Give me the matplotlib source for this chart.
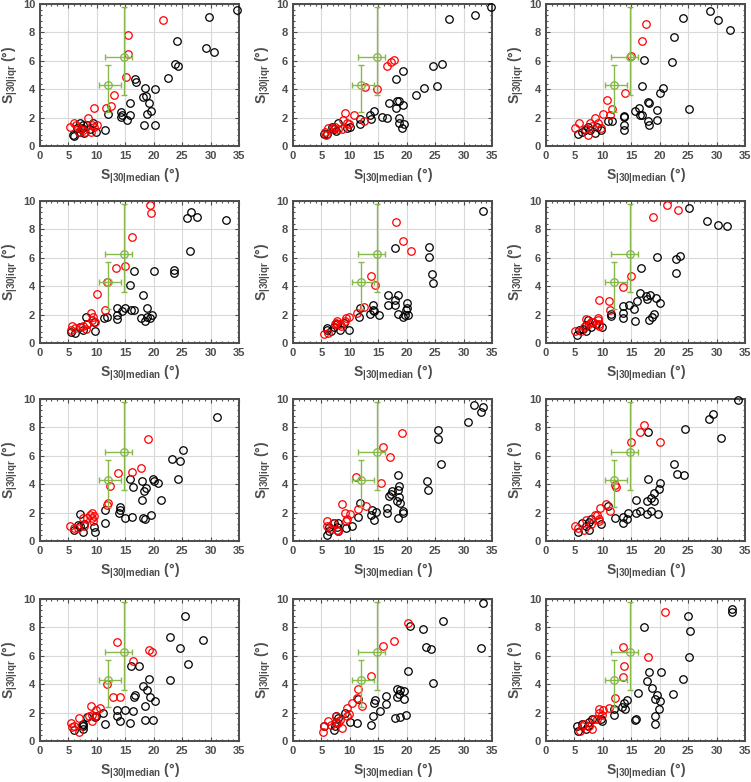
"""
Grade 4x3 de dispersões: S|30|iqr contra S|30|median.
Pontos pretos e vermelhos por painel, com as duas referências verdes.
"""

import matplotlib
matplotlib.use("Agg")
import matplotlib.pyplot as plt
from matplotlib.ticker import MultipleLocator, AutoMinorLocator

# ---------------------------------------------------------------- dados
# cada lista: pares (median, iqr)

black_1 = [(34.7, 9.6), (29.7, 9.1), (29.2, 6.9), (30.6, 6.65), (24.1, 7.4), (23.8, 5.75), (24.2, 5.65),
           (22.5, 4.8), (16.7, 4.7), (16.9, 4.5), (18.4, 4.05), (20.2, 4.0), (18.1, 3.45), (18.6, 3.55),
           (15.9, 3.0), (19.1, 3.0), (14.2, 2.4), (14.4, 2.2), (14.3, 2.05), (15.9, 2.15), (15.3, 1.85),
           (19.6, 2.45), (18.9, 2.25), (18.3, 1.5), (20.2, 1.45), (11.9, 2.25), (11.5, 1.15), (9.9, 1.0),
           (9.4, 1.65), (8.2, 1.45), (7.6, 1.5), (7.0, 1.65), (7.2, 1.2), (6.8, 1.0), (7.8, 0.95),
           (5.8, 0.8), (5.9, 0.7), (6.5, 1.3), (8.8, 1.2), (7.4, 1.3)]
red_1 = [(21.7, 8.85), (15.4, 7.85), (15.4, 6.5), (15.2, 4.85), (13.1, 3.6), (12.4, 2.85), (11.6, 2.7),
         (9.5, 2.7), (8.4, 1.95), (5.3, 1.35), (6.0, 1.6), (6.4, 1.45), (7.2, 1.2), (8.0, 1.0), (9.0, 1.0),
         (9.5, 1.35), (10.0, 1.45), (9.1, 1.5), (6.9, 1.0), (7.6, 1.1)]

black_2 = [(34.9, 9.8), (27.5, 8.96), (32.0, 9.25), (26.2, 5.8), (24.6, 5.65), (25.3, 4.2), (23.1, 4.1),
           (21.6, 3.6), (19.3, 5.3), (18.1, 4.7), (16.9, 3.0), (18.3, 3.2), (18.7, 3.2), (19.3, 2.9),
           (18.2, 2.65), (18.6, 2.0), (18.6, 1.65), (19.1, 1.3), (19.6, 1.58), (15.7, 2.05), (16.5, 1.95),
           (14.3, 2.45), (13.6, 2.2), (13.8, 1.9), (11.7, 1.9), (11.7, 1.55), (10.0, 1.35), (9.5, 1.28),
           (7.9, 1.62), (7.2, 1.22), (6.8, 1.35), (7.5, 1.05), (5.4, 0.82), (6.0, 0.82)]
red_2 = [(17.8, 6.05), (17.2, 5.9), (16.5, 5.6), (12.6, 4.15), (14.8, 4.0), (10.8, 2.2), (9.1, 2.35),
         (12.5, 1.75), (8.8, 1.85), (9.5, 1.65), (9.9, 1.58), (8.7, 1.22), (7.4, 1.35), (7.1, 1.3),
         (6.1, 1.3), (5.7, 1.0), (5.8, 0.75), (7.9, 1.2)]

black_3 = [(28.9, 9.5), (24.1, 9.0), (30.2, 8.9), (32.4, 8.15), (22.6, 7.7), (22.2, 5.9), (17.3, 6.05),
           (16.9, 4.2), (20.5, 4.05), (20.0, 3.75), (18.0, 3.1), (18.1, 3.0), (16.3, 2.7), (15.6, 2.5),
           (16.9, 2.15), (16.6, 2.15), (19.5, 2.55), (19.6, 1.85), (18.0, 1.75), (18.2, 1.5), (25.2, 2.6),
           (13.8, 2.1), (13.8, 2.05), (13.8, 1.45), (13.8, 1.1), (11.6, 1.75), (10.9, 1.75), (9.6, 1.1),
           (9.0, 1.35), (7.3, 1.35), (6.9, 1.1), (5.6, 0.85), (6.3, 1.0), (7.8, 1.1), (8.7, 0.95)]
red_3 = [(17.6, 8.6), (16.9, 7.4), (15.0, 6.35), (13.9, 3.75), (10.8, 3.25), (11.6, 2.6), (11.2, 2.2),
         (10.0, 2.25), (8.7, 1.95), (7.8, 1.6), (5.8, 1.65), (5.1, 1.25), (8.1, 1.4), (9.2, 1.6),
         (9.7, 1.3), (7.3, 0.8), (6.9, 1.2)]

black_4 = [(32.8, 8.65), (26.6, 9.2), (25.8, 8.8), (27.6, 8.85), (26.4, 6.5), (23.5, 5.15), (23.5, 4.9),
           (20.1, 5.1), (16.5, 5.05), (15.8, 4.1), (18.1, 3.35), (13.6, 2.5), (15.0, 2.5), (16.5, 2.35),
           (16.0, 2.3), (14.4, 2.25), (13.5, 2.0), (13.5, 1.7), (18.8, 2.45), (17.8, 1.75), (18.5, 1.55),
           (18.8, 1.85), (19.4, 1.75), (19.7, 2.0), (11.8, 1.85), (11.2, 1.75), (9.7, 0.82), (9.5, 1.5),
           (8.1, 1.8), (7.5, 0.92), (6.1, 0.68), (5.4, 0.75), (8.2, 1.35), (7.1, 1.15)]
red_4 = [(19.4, 9.75), (19.5, 9.15), (16.1, 7.5), (15.0, 5.45), (13.4, 5.25), (11.7, 4.3), (10.1, 3.45),
         (11.5, 2.35), (8.9, 2.1), (9.3, 1.85), (9.1, 1.6), (9.7, 1.45), (8.2, 1.35), (7.6, 1.22),
         (7.1, 1.1), (8.1, 1.0), (5.6, 1.22), (5.5, 0.92), (6.2, 1.05)]

black_5 = [(33.4, 9.3), (24.0, 6.75), (24.0, 6.05), (24.4, 4.85), (24.7, 4.2), (17.9, 6.7), (16.7, 3.4),
           (18.4, 3.4), (17.9, 3.05), (16.7, 2.65), (17.9, 2.65), (20.1, 2.85), (20.0, 2.5), (19.9, 2.3),
           (18.5, 2.05), (20.3, 2.0), (19.3, 1.85), (19.7, 2.0), (14.1, 2.7), (14.1, 2.35), (14.3, 2.25),
           (13.5, 2.05), (15.1, 2.0), (11.7, 2.5), (11.6, 1.8), (9.8, 0.92), (9.0, 1.4), (7.8, 1.35),
           (7.2, 1.1), (8.2, 0.92), (5.9, 1.05), (5.9, 0.92), (6.6, 0.88)]
red_5 = [(18.2, 8.5), (19.3, 7.2), (20.7, 6.5), (13.8, 4.75), (14.4, 4.08), (12.5, 2.55), (11.3, 2.1),
         (9.8, 1.85), (9.4, 1.75), (9.1, 1.55), (8.2, 1.35), (7.5, 1.4), (7.7, 1.55), (7.4, 1.35),
         (5.5, 0.6), (6.1, 0.68), (8.5, 1.22)]

black_6 = [(25.1, 9.5), (28.4, 8.6), (31.8, 8.25), (30.2, 8.3), (23.5, 6.15), (22.9, 5.9), (22.9, 4.9),
           (19.6, 6.05), (16.7, 5.3), (16.6, 3.55), (18.3, 3.4), (17.6, 3.3), (17.7, 3.1), (19.3, 3.2),
           (20.0, 2.8), (16.0, 2.95), (14.6, 2.65), (13.6, 2.6), (15.4, 2.4), (13.6, 2.1), (13.6, 1.75),
           (15.7, 1.58), (19.0, 2.05), (18.6, 1.8), (18.2, 1.6), (11.4, 2.05), (11.4, 1.9), (9.8, 1.15),
           (8.8, 1.35), (7.3, 1.6), (7.1, 1.25), (7.0, 0.88), (5.5, 0.55), (5.8, 0.92), (6.5, 1.0), (7.9, 1.15)]
red_6 = [(21.3, 9.75), (23.3, 9.4), (18.8, 8.85), (15.0, 4.7), (13.5, 3.95), (9.3, 3.0), (11.1, 2.95),
         (11.3, 2.3), (9.2, 1.6), (9.1, 1.75), (7.1, 1.7), (7.9, 1.45), (8.3, 1.5), (9.3, 1.35),
         (9.4, 1.22), (6.7, 1.1), (6.1, 0.88), (5.1, 0.88), (7.5, 1.35)]

black_7 = [(31.1, 8.7), (25.1, 6.4), (23.3, 5.8), (24.6, 5.6), (24.3, 4.4), (19.9, 4.35), (20.0, 4.2),
           (20.8, 4.1), (15.8, 4.4), (16.3, 3.8), (17.9, 4.25), (18.3, 3.55), (18.7, 3.75), (17.9, 2.9),
           (21.2, 2.9), (14.1, 2.2), (14.1, 2.4), (13.9, 2.0), (14.9, 1.65), (16.1, 1.7), (18.1, 1.65),
           (18.5, 1.55), (19.6, 1.85), (11.5, 2.15), (11.4, 1.25), (7.1, 1.9), (9.5, 1.0), (9.6, 0.65),
           (7.6, 0.62), (6.6, 1.1), (5.9, 0.75), (7.8, 1.18), (7.1, 1.05)]
red_7 = [(19.0, 7.2), (17.7, 5.15), (16.2, 4.85), (13.7, 4.8), (12.3, 3.9), (11.8, 2.55), (11.9, 2.65),
         (9.2, 1.95), (8.8, 1.85), (8.3, 1.65), (9.2, 1.6), (9.3, 1.38), (7.5, 1.6), (7.7, 1.05),
         (6.6, 0.9), (5.2, 1.05), (5.9, 0.95), (9.5, 1.75)]

black_8 = [(33.4, 9.45), (31.8, 9.55), (33.0, 9.1), (30.8, 8.4), (25.5, 7.8), (25.5, 7.2), (26.0, 5.4),
           (23.6, 4.2), (23.8, 3.6), (18.5, 4.65), (18.6, 3.9), (17.4, 3.55), (17.3, 3.3), (16.8, 3.15),
           (18.5, 3.6), (18.6, 3.1), (18.3, 2.8), (18.9, 2.65), (19.3, 2.1), (19.3, 1.95), (18.4, 1.65),
           (16.6, 2.35), (16.6, 2.0), (13.9, 2.15), (14.6, 2.05), (13.8, 1.8), (14.3, 1.5), (11.8, 2.65),
           (11.4, 1.7), (10.3, 1.05), (9.4, 0.9), (7.9, 1.25), (7.8, 0.97), (7.2, 1.25), (6.3, 0.7),
           (5.9, 0.42), (6.3, 1.0), (8.0, 0.72)]
red_8 = [(19.1, 7.6), (15.8, 6.65), (17.0, 5.95), (11.1, 4.5), (15.5, 4.05), (8.6, 2.62), (9.2, 2.0),
         (10.1, 1.9), (12.8, 2.45), (11.4, 2.25), (9.5, 1.55), (9.4, 1.38), (6.0, 1.38), (6.0, 1.05),
         (7.1, 1.25), (7.7, 0.78), (8.0, 0.68), (6.6, 0.83)]

black_9 = [(33.8, 9.9), (29.3, 8.95), (28.6, 8.6), (30.8, 7.25), (24.4, 7.9), (18.0, 7.65), (22.5, 5.4),
           (23.0, 4.75), (24.2, 4.65), (17.9, 4.35), (20.1, 4.05), (19.9, 3.65), (19.0, 3.4), (18.5, 3.0),
           (19.0, 2.85), (17.7, 2.8), (15.9, 2.9), (19.7, 1.9), (18.4, 2.1), (17.7, 1.92), (16.5, 2.1),
           (15.8, 2.0), (14.4, 2.0), (13.5, 1.72), (14.2, 1.55), (13.5, 1.3), (12.1, 1.65), (10.9, 2.5),
           (9.6, 1.18), (8.0, 1.55), (7.5, 1.32), (7.6, 0.78), (5.7, 0.66), (7.0, 1.05), (6.4, 1.25)]
red_9 = [(17.2, 8.15), (16.6, 7.65), (14.9, 7.0), (20.1, 7.0), (12.1, 3.95), (12.3, 3.8), (10.5, 2.6),
         (9.5, 2.35), (11.2, 2.1), (8.9, 1.85), (8.6, 1.8), (9.3, 1.4), (9.3, 1.55), (7.1, 1.5),
         (7.9, 1.2), (5.1, 1.05), (5.7, 0.9), (6.7, 0.78)]

black_10 = [(25.5, 8.8), (22.8, 7.35), (24.6, 6.55), (28.6, 7.1), (26.0, 5.4), (22.9, 4.3), (16.0, 5.3),
            (17.4, 5.3), (19.1, 4.38), (18.1, 3.85), (18.8, 3.6), (16.7, 3.25), (16.6, 3.1), (19.3, 3.1),
            (20.2, 2.83), (18.5, 2.5), (14.9, 2.2), (13.6, 2.2), (13.6, 1.78), (14.0, 1.43), (16.4, 2.08),
            (15.8, 1.3), (18.5, 1.5), (19.9, 1.5), (11.1, 2.0), (11.5, 1.22), (9.7, 1.68), (8.2, 1.68),
            (7.6, 1.2), (7.6, 1.03), (7.6, 0.87), (5.9, 0.8), (7.4, 1.1), (9.8, 1.73)]
red_10 = [(13.5, 6.95), (19.1, 6.42), (19.7, 6.3), (16.3, 5.65), (11.8, 4.02), (12.9, 3.13), (14.0, 3.1),
          (8.9, 2.48), (9.8, 2.2), (10.5, 2.3), (9.1, 1.85), (8.7, 1.78), (9.7, 1.73), (9.1, 1.38),
          (6.9, 1.65), (5.4, 1.25), (6.0, 1.03), (6.9, 0.66), (5.6, 0.96)]

black_11 = [(33.4, 9.75), (33.0, 6.53), (26.4, 8.48), (22.8, 7.87), (20.5, 8.1), (23.4, 6.6), (24.3, 6.46),
            (24.7, 4.07), (20.2, 4.94), (16.4, 3.18), (18.3, 3.65), (18.9, 3.6), (19.6, 3.53), (18.3, 3.09),
            (18.6, 3.33), (19.6, 2.95), (16.4, 2.62), (14.5, 2.86), (14.2, 2.67), (15.3, 2.13), (14.0, 1.78),
            (13.8, 1.15), (18.0, 1.62), (18.9, 1.69), (19.8, 1.8), (11.4, 2.97), (11.2, 1.26), (10.1, 1.31),
            (9.2, 1.97), (7.6, 1.73), (8.0, 1.62), (7.3, 1.03), (7.2, 0.8), (5.4, 1.03), (7.5, 1.31)]
red_11 = [(20.3, 8.33), (17.7, 7.07), (15.8, 6.72), (13.8, 4.59), (11.4, 3.65), (11.2, 3.0), (12.1, 2.44),
          (10.3, 2.67), (9.5, 2.32), (9.8, 1.92), (9.5, 1.73), (8.3, 1.5), (7.5, 1.73), (7.5, 1.31),
          (7.9, 1.26), (8.6, 0.91), (6.2, 1.38), (5.5, 1.03), (5.3, 0.63), (6.7, 1.15)]

black_12 = [(32.7, 9.32), (32.8, 9.08), (25.0, 8.77), (25.4, 7.76), (25.1, 5.94), (17.3, 8.02), (24.1, 4.36),
            (22.4, 3.28), (18.2, 4.83), (20.2, 4.83), (17.7, 4.22), (18.6, 3.75), (19.6, 3.23), (19.2, 2.95),
            (20.1, 2.85), (19.9, 2.24), (19.2, 1.75), (19.1, 1.23), (16.1, 3.4), (14.2, 2.88), (13.8, 2.71),
            (13.4, 2.41), (13.9, 2.22), (15.9, 1.58), (15.6, 1.46), (11.9, 2.22), (11.9, 1.86), (9.8, 1.39),
            (9.7, 1.58), (8.1, 1.58), (7.5, 1.34), (7.3, 1.06), (7.0, 0.87), (5.7, 0.68), (5.4, 1.06), (6.4, 1.23)]
red_12 = [(20.9, 9.08), (18.0, 5.94), (13.5, 6.63), (13.7, 5.28), (13.5, 4.48), (12.1, 3.04), (11.0, 2.29),
          (10.1, 2.17), (9.4, 2.24), (9.3, 1.98), (9.8, 1.82), (9.0, 1.58), (8.4, 1.58), (8.1, 0.87),
          (7.5, 1.06), (6.7, 1.23), (6.0, 0.68), (6.3, 1.06)]

# referências verdes: centro, erro x (menos, mais), erro y (menos, mais)
ref_x = [12.0, 14.7]
ref_y = [4.3, 6.3]
ref_xerr = [[1.7, 3.3], [2.2, 1.4]]
ref_yerr = [[1.9, 2.7], [1.4, 3.5]]

x_label = r"S$_{|30|median}$ (°)"
y_label = r"S$_{|30|iqr}$ (°)"

panels = [(black_1, red_1), (black_2, red_2), (black_3, red_3),
          (black_4, red_4), (black_5, red_5), (black_6, red_6),
          (black_7, red_7), (black_8, red_8), (black_9, red_9),
          (black_10, red_10), (black_11, red_11), (black_12, red_12)]

# ---------------------------------------------------------------- estilo
GRAY = "#4d4d4d"
GREEN = "#86b84a"

plt.rcParams["font.family"] = ["Liberation Sans", "DejaVu Sans"]
plt.rcParams["font.weight"] = "bold"
plt.rcParams["axes.labelweight"] = "bold"
plt.rcParams["mathtext.fontset"] = "custom"
plt.rcParams["mathtext.rm"] = "Liberation Sans:bold"
plt.rcParams["mathtext.it"] = "Liberation Sans:bold"
plt.rcParams["mathtext.bf"] = "Liberation Sans:bold"

W, H = 751, 782
fig = plt.figure(figsize=(W / 100, H / 100), dpi=100)

col_left = [40, 293, 546]
row_top = [4, 201, 399, 599]
ax_w, ax_h = 199, 142

for i, (black, red) in enumerate(panels):
    r, c = divmod(i, 3)
    l, t = col_left[c], row_top[r]
    ax = fig.add_axes([l / W, 1 - (t + ax_h) / H, ax_w / W, ax_h / H])

    bx, by = zip(*black)
    rx, ry = zip(*red)
    ax.plot(bx, by, "o", mfc="none", mec="black", ms=5.4, mew=0.9, clip_on=False, zorder=3)
    ax.plot(rx, ry, "o", mfc="none", mec="red", ms=5.4, mew=0.9, clip_on=False, zorder=3)
    ax.errorbar(ref_x, ref_y, xerr=ref_xerr, yerr=ref_yerr, fmt="o", mfc="none", mec=GREEN,
                ecolor=GREEN, ms=5.4, mew=1.0, elinewidth=1.0, capsize=2.5, capthick=1.0, zorder=4)

    ax.set_xlim(0, 35)
    ax.set_ylim(0, 10)
    ax.xaxis.set_major_locator(MultipleLocator(5))
    ax.yaxis.set_major_locator(MultipleLocator(2))
    ax.xaxis.set_minor_locator(AutoMinorLocator(5))
    ax.yaxis.set_minor_locator(AutoMinorLocator(5))
    ax.grid(True, which="major", color="#d9d9d9", lw=0.8, zorder=0)
    ax.set_axisbelow(True)

    for sp in ax.spines.values():
        sp.set_color(GRAY)
        sp.set_linewidth(1.4)
    ax.tick_params(which="both", direction="in", top=True, right=True, colors=GRAY,
                   labelsize=8, width=0.8)
    ax.tick_params(which="major", length=3, pad=3.5)
    ax.tick_params(which="minor", length=1.5)
    for lab in ax.get_xticklabels() + ax.get_yticklabels():
        lab.set_fontweight("bold")

    ax.set_xlabel(x_label, fontsize=10, fontweight="bold", color=GRAY, labelpad=4)
    ax.set_ylabel(y_label, fontsize=10, fontweight="bold", color=GRAY, labelpad=2)

fig.savefig("out.png", dpi=100)
